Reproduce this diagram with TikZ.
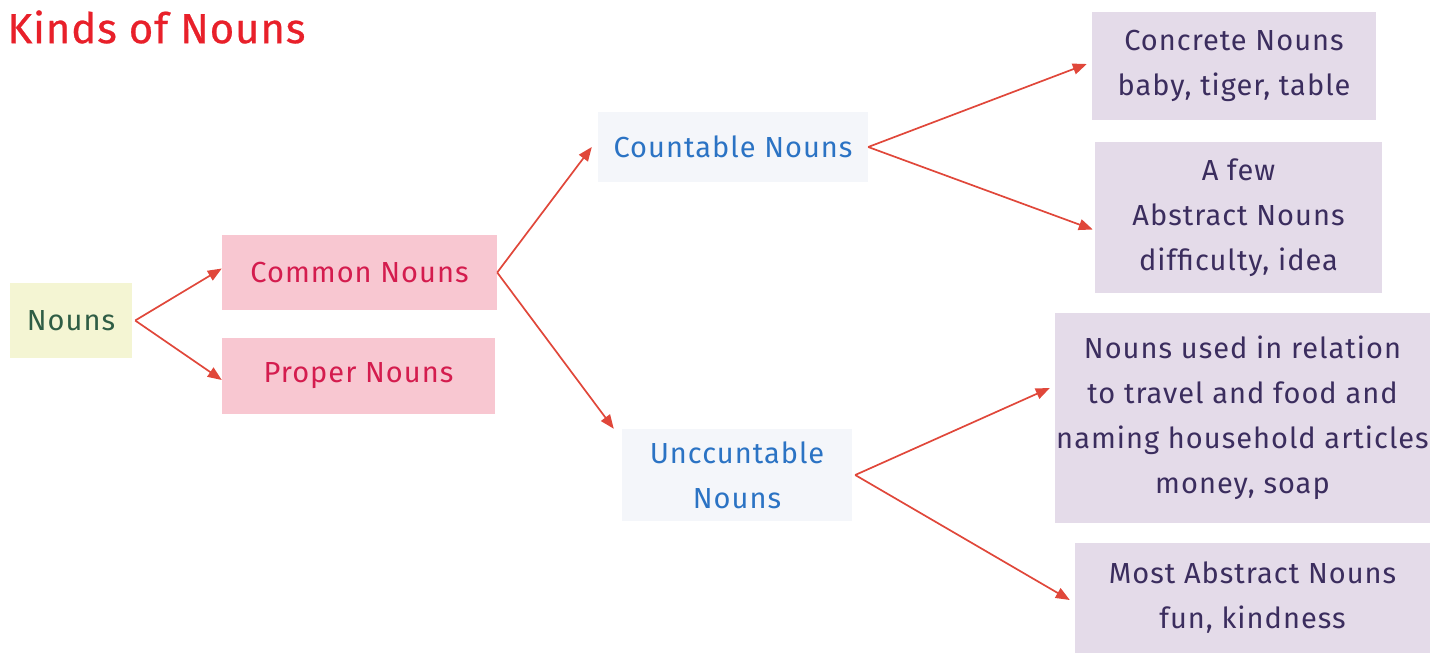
\documentclass[tikz,border=0pt]{standalone}
\usepackage{fontspec}
\setmainfont{Fira Sans}[LetterSpace=3.5]
\newfontfamily\titlefont{Fira Sans}[LetterSpace=2,FakeBold=0.6]
\usetikzlibrary{arrows.meta,calc}
\definecolor{titlered}{HTML}{E8202A}
\definecolor{arrowred}{HTML}{E0473A}
\definecolor{yellowbox}{HTML}{F4F5D3}
\definecolor{pinkbox}{HTML}{F8C7D1}
\definecolor{lavbox}{HTML}{E4DBE9}
\definecolor{palebox}{HTML}{F4F6FA}
\definecolor{greentxt}{HTML}{2F5D45}
\definecolor{crimsontxt}{HTML}{D41C4E}
\definecolor{bluetxt}{HTML}{2B73C4}
\definecolor{purpletxt}{HTML}{3B2D5E}
\tikzset{
  box/.style={rectangle, inner sep=0pt, align=center,
    font=\fontsize{29}{45}\selectfont},
  rootbox/.style={box, fill=yellowbox, text=greentxt},
  pinkb/.style={box, fill=pinkbox, text=crimsontxt},
  paleb/.style={box, fill=palebox, text=bluetxt},
  lavb/.style={box, fill=lavbox, text=purpletxt},
  arr/.style={draw=arrowred, line width=1.7pt,
    -{Triangle[length=14pt,width=11pt]}, fill=arrowred}
}
\begin{document}
\begin{tikzpicture}[x=1pt,y=-1pt]
\useasboundingbox (0,0) rectangle (1445,653);

\node[anchor=west, text=titlered, font=\titlefont\fontsize{42}{50}\selectfont]
  (title) at (4,27) {Kinds of Nouns};

\node[rootbox, minimum width=122pt, minimum height=75pt] (nouns) at (71,320.5) {Nouns};
\node[pinkb, minimum width=275pt, minimum height=75pt] (common) at (359.5,272.5) {Common Nouns};
\node[pinkb, minimum width=273pt, minimum height=76pt] (proper) at (358.5,376) {Proper Nouns};
\node[paleb, minimum width=270pt, minimum height=70pt] (count) at (733,147) {Countable Nouns};
\node[paleb, minimum width=230pt, minimum height=92pt] (uncount) at (737,475) {Unccuntable\\Nouns};
\node[lavb, minimum width=284pt, minimum height=108pt] (concrete) at (1234,66) {Concrete Nouns\\baby, tiger, table};
\node[lavb, minimum width=287pt, minimum height=151pt] (few) at (1238.5,217.5) {A few\\Abstract Nouns\\difficulty, idea};
\node[lavb, minimum width=375pt, minimum height=210pt] (used) at (1242.5,418) {Nouns used in relation\\to travel and food and\\naming household articles\\money, soap};
\node[lavb, minimum width=355pt, minimum height=110pt] (most) at (1252.5,598) {Most Abstract Nouns\\fun, kindness};

\coordinate (nsplit) at ($(nouns.east)+(3,0)$);
\coordinate (usplit) at ($(uncount.east)+(3,0)$);

\draw[arr] (nsplit) -- ($(common.west)+(0,-4)$);
\draw[arr] (nsplit) -- ($(proper.west)+(0,4)$);
\draw[arr] (common.east) -- ($(count.west)+(-6,0)$);
\draw[arr] (common.east) -- ($(uncount.north west)+(-8,0)$);
\draw[arr] (count.east) -- ($(concrete.west)+(-5,-2)$);
\draw[arr] (count.east) -- ($(few.west)+(-2,12)$);
\draw[arr] (usplit) -- ($(used.west)+(-5,-30)$);
\draw[arr] (usplit) -- ($(most.west)+(-5,2)$);
\end{tikzpicture}
\end{document}
